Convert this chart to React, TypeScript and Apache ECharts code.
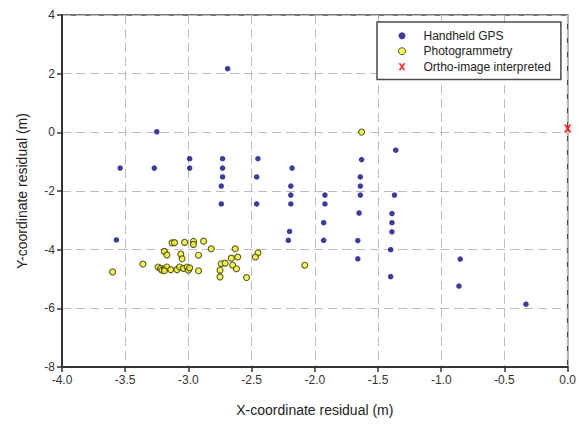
import React, { useEffect, useRef } from "react";
import * as echarts from "echarts";

const xTicks = [-4.0, -3.5, -3.0, -2.5, -2.0, -1.5, -1.0, -0.5, 0.0];
const yTicks = [-8, -6, -4, -2, 0, 2, 4];

const seriesNames = ["Handheld GPS", "Photogrammetry", "Ortho-image interpreted"];

const handheldGps: number[][] = [
  [-2.69, 2.17], [-3.25, 0.02], [-3.54, -1.22], [-3.27, -1.22], [-2.99, -0.9], [-2.99, -1.22],
  [-2.73, -0.9], [-2.73, -1.22], [-2.73, -1.52], [-2.74, -1.83], [-2.74, -2.44], [-2.45, -0.9],
  [-2.46, -1.52], [-2.46, -2.44], [-2.18, -1.22], [-2.19, -1.83], [-2.19, -2.14], [-2.19, -2.44],
  [-1.92, -2.14], [-1.92, -2.44], [-1.63, -0.93], [-1.64, -1.52], [-1.64, -1.83], [-1.64, -2.14],
  [-1.36, -0.61], [-1.37, -2.14], [-1.65, -2.75], [-1.39, -2.77], [-1.39, -3.08], [-1.39, -3.39],
  [-2.2, -3.38], [-2.21, -3.68], [-1.93, -3.08], [-1.93, -3.68], [-1.66, -3.69], [-3.57, -3.67],
  [-1.4, -4.0], [-1.66, -4.31], [-0.85, -4.32], [-1.4, -4.92], [-0.86, -5.24], [-0.33, -5.86],
];

const photogrammetry: number[][] = [
  [-3.6, -4.76], [-3.36, -4.49], [-3.19, -4.06], [-3.17, -4.18], [-3.13, -3.77], [-3.11, -3.76],
  [-3.03, -3.75], [-2.96, -3.72], [-2.96, -3.82], [-2.88, -3.71], [-2.82, -3.97], [-3.06, -4.15],
  [-3.05, -4.31], [-2.92, -4.19], [-2.63, -3.97], [-2.61, -4.25], [-2.66, -4.29], [-2.65, -4.53],
  [-2.62, -4.65], [-2.74, -4.48], [-2.75, -4.7], [-2.75, -4.93], [-2.71, -4.46], [-2.45, -4.11],
  [-2.47, -4.25], [-2.54, -4.95], [-2.08, -4.53], [-3.24, -4.59], [-3.22, -4.64], [-3.21, -4.7],
  [-3.19, -4.66], [-3.17, -4.59], [-3.14, -4.68], [-3.09, -4.68], [-3.07, -4.59], [-3.04, -4.64],
  [-3.01, -4.59], [-3.0, -4.7], [-2.99, -4.62], [-2.92, -4.72], [-3.19, -4.72], [-1.63, 0.01],
];

const orthoImage: number[][] = [[0.0, 0.13]];

const X_SYMBOL =
  "path://M0,0 L3,0 L5,3 L7,0 L10,0 L6.5,5 L10,10 L7,10 L5,7 L3,10 L0,10 L3.5,5 Z";

export default function App() {
  const ref = useRef<HTMLDivElement>(null);

  useEffect(() => {
    if (!ref.current) return;
    const chart = echarts.init(ref.current, null, { renderer: "svg" });
    const font = "Liberation Sans, Arial, sans-serif";
    const gridLine = {
      show: true,
      lineStyle: { color: "#bdbdbd", type: [9, 5] as any, width: 1 },
    };
    chart.setOption({
      animation: false,
      backgroundColor: "#ffffff",
      textStyle: { fontFamily: font },
      grid: {
        left: 62,
        right: 11,
        top: 15,
        bottom: 61,
        show: true,
        borderColor: "#4a4a4a",
        borderWidth: 1.5,
        backgroundColor: "transparent",
      },
      legend: {
        orient: "vertical",
        left: 377,
        top: 22,
        padding: [6, 10, 5, 21],
        itemGap: 0,
        itemWidth: 7,
        itemHeight: 7,
        borderColor: "#4a4a4a",
        borderWidth: 1.5,
        backgroundColor: "#ffffff",
        textStyle: {
          fontFamily: font,
          fontSize: 12,
          color: "#222",
          lineHeight: 15.5,
          padding: [0, 0, 0, 13],
        },
        data: [
          { name: seriesNames[0], icon: "circle", itemStyle: { borderWidth: 0 } },
          { name: seriesNames[1], icon: "circle", itemStyle: { borderWidth: 1 } },
          { name: seriesNames[2], icon: X_SYMBOL },
        ],
      },
      xAxis: {
        type: "value",
        min: xTicks[0],
        max: xTicks[xTicks.length - 1],
        interval: 0.5,
        name: "X-coordinate residual (m)",
        nameLocation: "middle",
        nameGap: 36,
        nameTextStyle: { fontSize: 14, color: "#222", fontFamily: font },
        axisLine: { show: true, onZero: false, lineStyle: { color: "#333", width: 2 } },
        axisTick: { show: true, length: 5, lineStyle: { color: "#333", width: 1.5 } },
        axisLabel: {
          fontSize: 12,
          color: "#333",
          margin: 7,
          formatter: (v: number) => v.toFixed(1),
        },
        splitLine: gridLine,
      },
      yAxis: {
        type: "value",
        min: yTicks[0],
        max: yTicks[yTicks.length - 1],
        interval: 2,
        name: "Y-coordinate residual (m)",
        nameLocation: "middle",
        nameGap: 33,
        nameTextStyle: { fontSize: 14, color: "#222", fontFamily: font },
        axisLine: { show: true, onZero: false, lineStyle: { color: "#333", width: 2 } },
        axisTick: { show: true, length: 5, lineStyle: { color: "#333", width: 1.5 } },
        axisLabel: { fontSize: 12, color: "#333", margin: 7 },
        splitLine: gridLine,
      },
      series: [
        {
          name: seriesNames[0],
          type: "scatter",
          symbol: "circle",
          symbolSize: 5.5,
          data: handheldGps,
          itemStyle: { color: "#0b0b85" },
          z: 3,
        },
        {
          name: seriesNames[1],
          type: "scatter",
          symbol: "circle",
          symbolSize: 6,
          data: photogrammetry,
          itemStyle: { color: "#f5f52a", borderColor: "#333300", borderWidth: 1.1 },
          z: 4,
        },
        {
          name: seriesNames[2],
          type: "scatter",
          symbol: X_SYMBOL,
          symbolSize: 8,
          clip: false,
          data: orthoImage,
          itemStyle: { color: "#ff0000" },
          z: 5,
        },
      ],
    });
    return () => chart.dispose();
  }, []);

  return (
    <div
      ref={ref}
      style={{ position: "absolute", left: 0, top: 0, width: 579, height: 428 }}
    />
  );
}
